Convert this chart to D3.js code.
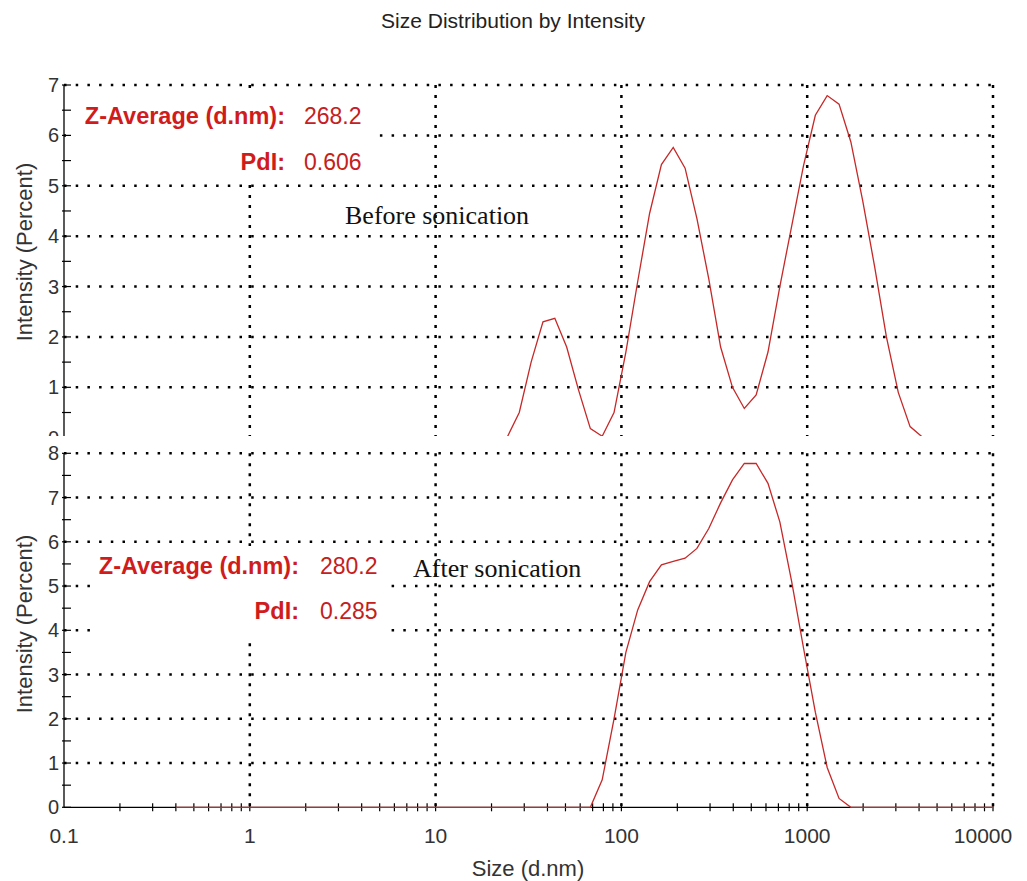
<!DOCTYPE html>
<html>
<head>
  <title>Size Distribution by Intensity</title>
  <script src="https://d3js.org/d3.v7.min.js"></script>
  <style>
    body {
      margin: 0;
      background: #fff;
    }
    text {
      font-family: "Liberation Sans", Arial, sans-serif;
    }
  </style>
</head>
<body>
<svg id="chart" width="1027" height="881"></svg>
<script>
// size classes of the instrument (d.nm)
const sizeBins = [0.4, 0.4632, 0.5365, 0.6213, 0.7195, 0.8332, 0.9649, 1.117, 1.294, 1.499,
  1.736, 2.01, 2.328, 2.696, 3.122, 3.615, 4.187, 4.849, 5.615, 6.503,
  7.531, 8.721, 10.1, 11.7, 13.54, 15.69, 18.17, 21.04, 24.36, 28.21,
  32.67, 37.84, 43.82, 50.75, 58.77, 68.06, 78.82, 91.28, 105.7, 122.4,
  141.8, 164.2, 190.1, 220.2, 255.0, 295.3, 342.0, 396.1, 458.7, 531.2,
  615.1, 712.4, 825.0, 955.4, 1106, 1281, 1484, 1718, 1990, 2305,
  2669, 3091, 3580, 4145, 4801, 5560, 6439, 7456, 8635, 10000];

// intensity (%) before sonication, null = not drawn
const beforeIntensity = [null, null, null, null, null, null, null, null, null, null,
  null, null, null, null, null, null, null, null, null, null,
  null, null, null, null, null, null, null, null, 0.02, 0.5,
  1.5, 2.3, 2.37, 1.8, 0.95, 0.18, 0.03, 0.5, 1.7, 3.1,
  4.45, 5.42, 5.76, 5.35, 4.35, 3.15, 1.8, 1.0, 0.58, 0.85,
  1.7, 3.0, 4.2, 5.4, 6.4, 6.79, 6.62, 5.87, 4.7, 3.4,
  2.0, 0.9, 0.22, 0.02, null, null, null, null, null, null];

// intensity (%) after sonication
const afterIntensity = [0, 0, 0, 0, 0, 0, 0, 0, 0, 0,
  0, 0, 0, 0, 0, 0, 0, 0, 0, 0,
  0, 0, 0, 0, 0, 0, 0, 0, 0, 0,
  0, 0, 0, 0, 0, 0, 0.62, 2.0, 3.5, 4.46,
  5.1, 5.48, 5.56, 5.63, 5.85, 6.3, 6.88, 7.4, 7.77, 7.77,
  7.32, 6.45, 5.1, 3.6, 2.15, 0.9, 0.2, 0, 0, 0,
  0, 0, 0, 0, 0, 0, 0, 0, 0, 0];

const xTicks = [0.1, 1, 10, 100, 1000, 10000];
const xTickLabels = ["0.1", "1", "10", "100", "1000", "10000"];
const beforeYTicks = [0, 1, 2, 3, 4, 5, 6, 7];
const afterYTicks = [0, 1, 2, 3, 4, 5, 6, 7, 8];

const zAverage = ["268.2", "280.2"];
const pdi = ["0.606", "0.285"];
const sampleNames = ["Before sonication", "After sonication"];

const RED = '#c62828';
const svg = d3.select('#chart');

const x = d3.scaleLog().domain([0.1, 10000]).range([64, 993]);

// minor decade ticks 0.2 .. 9000
const minorTicks = [];
xTicks.slice(0, -1).forEach(d => {
  for (let k = 2; k <= 9; k++) minorTicks.push(d * k);
});

const panels = [
  { values: beforeIntensity, yTicks: beforeYTicks, top: 85, bottom: 437.7, clipBottom: 436,
    box: [66, 95, 307, 83], zY: 124, pY: 170, labelEnd: 285, valX: 304,
    sampleX: 345, sampleY: 224, titleY: 252 },
  { values: afterIntensity, yTicks: afterYTicks, top: 453.3, bottom: 807.3, clipBottom: 881,
    box: [93, 546, 292, 92], zY: 574, pY: 619, labelEnd: 299, valX: 320,
    sampleX: 413, sampleY: 577, titleY: 624 }
];

svg.append('text')
  .attr('x', 513)
  .attr('y', 28)
  .attr('text-anchor', 'middle')
  .attr('font-size', 21)
  .attr('fill', '#222')
  .text('Size Distribution by Intensity');

panels.forEach((p, i) => {
  const ymax = d3.max(p.yTicks);
  const y = d3.scaleLinear().domain([0, ymax]).range([p.bottom, p.top]);

  svg.append('clipPath').attr('id', 'clip' + i)
    .append('rect')
    .attr('x', 0).attr('y', 0)
    .attr('width', 1027).attr('height', p.clipBottom);

  const g = svg.append('g').attr('clip-path', 'url(#clip' + i + ')');

  // dotted grid
  g.selectAll('.hgrid')
    .data(p.yTicks.filter(d => d > 0))
    .enter()
    .append('line')
    .attr('x1', x(0.1)).attr('x2', x(10000))
    .attr('y1', d => y(d)).attr('y2', d => y(d))
    .attr('stroke', '#000')
    .attr('stroke-width', 2.5)
    .attr('stroke-dasharray', '2.5,9.2');

  g.selectAll('.vgrid')
    .data(xTicks.slice(1))
    .enter()
    .append('line')
    .attr('x1', d => x(d)).attr('x2', d => x(d))
    .attr('y1', p.top).attr('y2', p.bottom)
    .attr('stroke', '#000')
    .attr('stroke-width', 2.5)
    .attr('stroke-dasharray', '3,7');

  // white box under the result text
  g.append('rect')
    .attr('x', p.box[0]).attr('y', p.box[1])
    .attr('width', p.box[2]).attr('height', p.box[3])
    .attr('fill', '#fff');

  // y axis
  g.append('line')
    .attr('x1', x(0.1)).attr('x2', x(0.1))
    .attr('y1', p.top).attr('y2', p.bottom)
    .attr('stroke', '#000').attr('stroke-width', 1.3);

  g.selectAll('.ytick')
    .data(d3.range(0, ymax + 0.01, 0.5))
    .enter()
    .append('line')
    .attr('x1', x(0.1) - 2).attr('x2', x(0.1) + 7)
    .attr('y1', d => y(d)).attr('y2', d => y(d))
    .attr('stroke', '#000').attr('stroke-width', 1.2);

  g.selectAll('.ylabel')
    .data(p.yTicks)
    .enter()
    .append('text')
    .attr('x', x(0.1) - 5)
    .attr('y', d => y(d))
    .attr('dy', '0.35em')
    .attr('text-anchor', 'end')
    .attr('font-size', 20)
    .attr('fill', '#333')
    .text(d => d);

  // x axis only on the lower panel
  if (i === 1) {
    g.append('line')
      .attr('x1', x(0.1)).attr('x2', x(10000))
      .attr('y1', y(0)).attr('y2', y(0))
      .attr('stroke', '#000').attr('stroke-width', 1.3);

    g.selectAll('.xtick')
      .data(minorTicks.concat(xTicks.slice(1)))
      .enter()
      .append('line')
      .attr('x1', d => x(d)).attr('x2', d => x(d))
      .attr('y1', y(0) - 4).attr('y2', y(0) + 4)
      .attr('stroke', '#000').attr('stroke-width', 1.2);

    g.selectAll('.xlabel')
      .data(xTicks)
      .enter()
      .append('text')
      .attr('x', d => x(d))
      .attr('dx', (d, j) => j === xTicks.length - 1 ? -10 : 0)
      .attr('y', 843)
      .attr('text-anchor', 'middle')
      .attr('font-size', 21)
      .attr('fill', '#333')
      .text((d, j) => xTickLabels[j]);

    svg.append('text')
      .attr('x', 528)
      .attr('y', 876)
      .attr('text-anchor', 'middle')
      .attr('font-size', 22)
      .attr('fill', '#333')
      .text('Size (d.nm)');
  }

  // the distribution curve
  const line = d3.line()
    .defined(d => d[1] != null)
    .x(d => x(d[0]))
    .y(d => y(d[1]));

  g.append('path')
    .datum(d3.zip(sizeBins, p.values))
    .attr('fill', 'none')
    .attr('stroke', RED)
    .attr('stroke-width', 1.3)
    .attr('d', line);

  // result text
  g.append('text')
    .attr('x', p.labelEnd).attr('y', p.zY)
    .attr('text-anchor', 'end')
    .attr('font-size', 23.5).attr('font-weight', 'bold')
    .attr('fill', '#d01c1c')
    .text('Z-Average (d.nm):');
  g.append('text')
    .attr('x', p.valX).attr('y', p.zY)
    .attr('font-size', 23)
    .attr('fill', '#c42020')
    .text(zAverage[i]);
  g.append('text')
    .attr('x', p.labelEnd).attr('y', p.pY)
    .attr('text-anchor', 'end')
    .attr('font-size', 23.5).attr('font-weight', 'bold')
    .attr('fill', '#d01c1c')
    .text('PdI:');
  g.append('text')
    .attr('x', p.valX).attr('y', p.pY)
    .attr('font-size', 23)
    .attr('fill', '#c42020')
    .text(pdi[i]);

  g.append('text')
    .attr('x', p.sampleX).attr('y', p.sampleY)
    .attr('font-size', 26)
    .style('font-family', '"Liberation Serif", "Times New Roman", serif')
    .attr('fill', '#111')
    .text(sampleNames[i]);

  svg.append('text')
    .attr('transform', 'translate(32,' + p.titleY + ') rotate(-90)')
    .attr('text-anchor', 'middle')
    .attr('font-size', 22)
    .attr('fill', '#333')
    .text('Intensity (Percent)');
});
</script>
</body>
</html>
